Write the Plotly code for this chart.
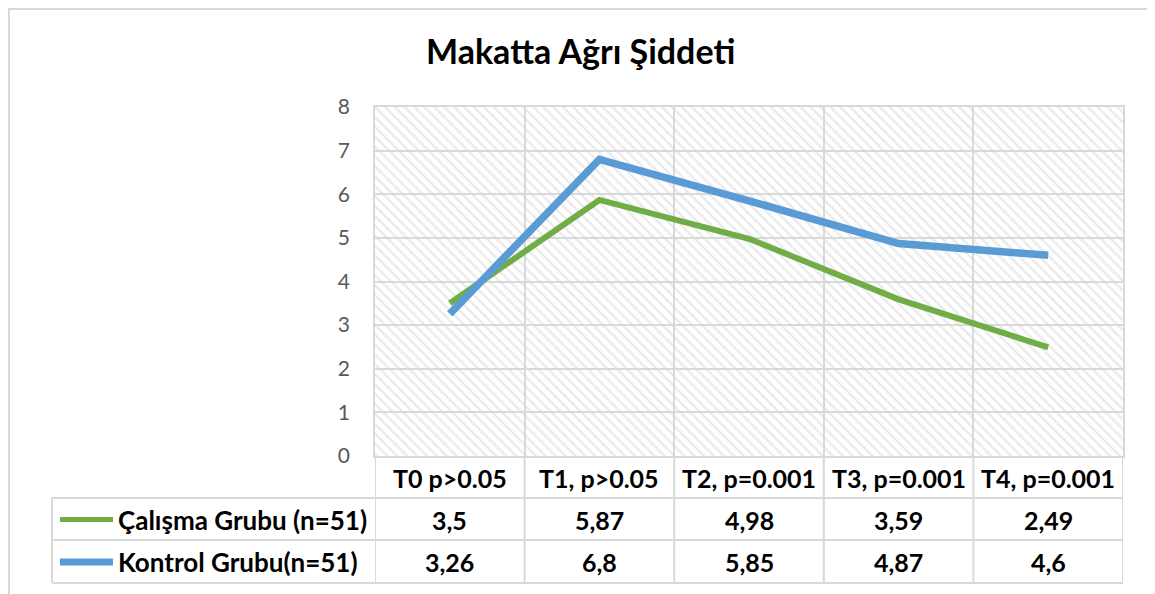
import plotly.graph_objects as go

# ---- data ----
categories = ["T0 p>0.05", "T1, p>0.05", "T2, p=0.001", "T3, p=0.001", "T4, p=0.001"]
series_names = ["Çalışma Grubu (n=51)", "Kontrol Grubu(n=51)"]
calisma = [3.5, 5.87, 4.98, 3.59, 2.49]
kontrol = [3.26, 6.8, 5.85, 4.87, 4.6]
value_labels_calisma = ["3,5", "5,87", "4,98", "3,59", "2,49"]
value_labels_kontrol = ["3,26", "6,8", "5,85", "4,87", "4,6"]
y_ticks = [0, 1, 2, 3, 4, 5, 6, 7, 8]

# ---- layout geometry (page pixels; page body has an 8px margin) ----
OFF = 8
W, H = 1155 - OFF, 594 - OFF
PL, PR, PT, PB = 375, 1123, 107, 456          # plot area in page pixels
L, R, T, B = PL - OFF, W - (PR - OFF), PT - OFF, H - (PB - OFF)
PW, PH = W - L - R, H - T - B

def px(x):
    return (x - OFF - L) / PW

def py(y):
    return (H - B - (y - OFF)) / PH

GREEN = "#70AD47"
BLUE = "#5B9BD5"
GRID = "#D9D9D9"
FONT = "Lato"
TFS = 25

n = len(categories)
xs = list(range(n))
ymax = y_ticks[-1]

fig = go.Figure()

# hatched plot-area background
fig.add_trace(go.Bar(
    x=[(n - 1) / 2], y=[ymax], width=[n],
    marker=dict(color="rgba(0,0,0,0)", line=dict(width=0),
                pattern=dict(shape="\\", fgcolor="#D6D6D6", size=7,
                             solidity=0.35, fillmode="overlay")),
    hoverinfo="skip", showlegend=False,
))

fig.add_trace(go.Scatter(x=xs, y=calisma, mode="lines", name=series_names[0],
                         line=dict(color=GREEN, width=6), showlegend=False))
fig.add_trace(go.Scatter(x=xs, y=kontrol, mode="lines", name=series_names[1],
                         line=dict(color=BLUE, width=7.5), showlegend=False))

shapes = []
annotations = []

# outer chart border
shapes.append(dict(type="rect", xref="paper", yref="paper",
                   x0=px(9), x1=px(1153), y0=py(610), y1=py(9),
                   line=dict(color=GRID, width=2), fillcolor="rgba(0,0,0,0)", layer="below"))

# table horizontal lines
row_lines = [457, 498, 540, 583]
for i, yy in enumerate(row_lines):
    x0 = px(PL) if i == 0 else px(52)
    shapes.append(dict(type="line", xref="paper", yref="paper",
                       x0=x0, x1=1, y0=py(yy), y1=py(yy),
                       line=dict(color=GRID, width=2)))
# table vertical lines
for k in range(n + 1):
    shapes.append(dict(type="line", xref="x", yref="paper",
                       x0=k - 0.5, x1=k - 0.5, y0=py(583), y1=py(457),
                       line=dict(color=GRID, width=2)))
shapes.append(dict(type="line", xref="paper", yref="paper",
                   x0=px(52), x1=px(52), y0=py(583), y1=py(498),
                   line=dict(color=GRID, width=2)))

# header labels
for k, c in enumerate(categories):
    annotations.append(dict(x=k, y=py(478), xref="x", yref="paper", text=c,
                            showarrow=False, font=dict(family=FONT, size=TFS, color="black", weight="bold"),
                            xanchor="center", yanchor="middle"))

rows = [(series_names[0], value_labels_calisma, GREEN, 519.5, 5),
        (series_names[1], value_labels_kontrol, BLUE, 562, 7)]
for name, labels, col, yc, lw in rows:
    shapes.append(dict(type="line", xref="paper", yref="paper",
                       x0=px(60), x1=px(113), y0=py(yc), y1=py(yc),
                       line=dict(color=col, width=lw)))
    annotations.append(dict(x=px(116), y=py(yc), xref="paper", yref="paper", text=name,
                            showarrow=False, font=dict(family=FONT, size=26, color="black", weight="bold"),
                            xanchor="left", yanchor="middle"))
    for k, lab in enumerate(labels):
        annotations.append(dict(x=k, y=py(yc), xref="x", yref="paper", text=lab,
                                showarrow=False, font=dict(family=FONT, size=TFS, color="black", weight="bold"),
                                xanchor="center", yanchor="middle"))

# title
annotations.append(dict(x=px(580), y=py(50), xref="paper", yref="paper",
                        text="Makatta Ağrı Şiddeti", showarrow=False,
                        font=dict(family=FONT, size=34, color="black", weight="bold"),
                        xanchor="center", yanchor="middle"))

fig.update_layout(
    width=W, height=H,
    margin=dict(l=L, r=R, t=T, b=B, pad=0),
    paper_bgcolor="white", plot_bgcolor="white",
    shapes=shapes, annotations=annotations,
    showlegend=False,
)
fig.update_xaxes(range=[-0.5, n - 0.5], tick0=-0.5, dtick=1, showgrid=True,
                 gridcolor=GRID, gridwidth=1.5, showticklabels=False, zeroline=False,
                 showline=True, mirror=True, linecolor=GRID, linewidth=1.5, ticks="")
fig.update_yaxes(range=[0, ymax], tickvals=y_ticks, showgrid=True, gridcolor=GRID, gridwidth=1.5,
                 zeroline=False, showline=True, mirror=True, linecolor=GRID, linewidth=1.5,
                 tickfont=dict(family=FONT, size=21, color="#595959"), ticks="",
                 ticklabelstandoff=19)

fig.write_html("out.html")
